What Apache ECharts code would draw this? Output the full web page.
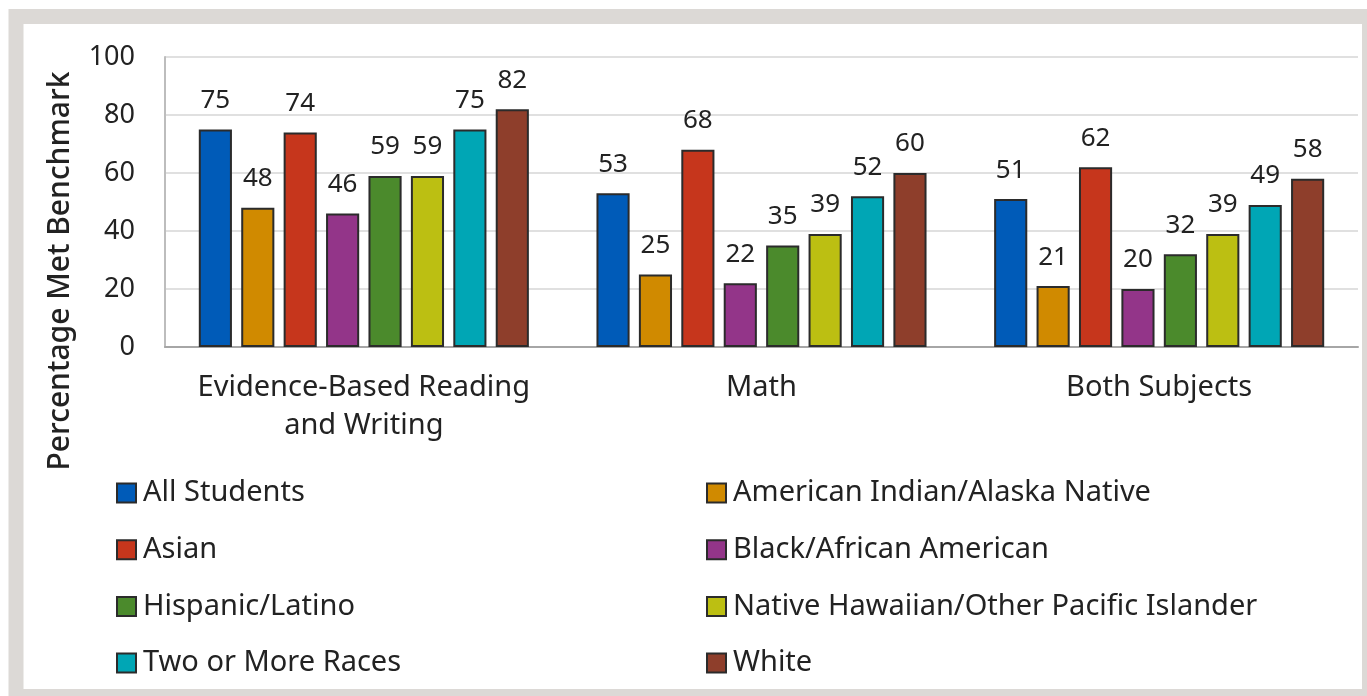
<!DOCTYPE html>
<html>
<head>
<meta charset="utf-8">
<script src="https://cdn.jsdelivr.net/npm/echarts@6/dist/echarts.min.js"></script>
<style>
html,body{margin:0;padding:0;background:#fff;}
#chart{width:1367px;height:696px;}
</style>
</head>
<body>
<div id="chart"></div>
<script>
const categories = ['Evidence-Based Reading\nand Writing', 'Math', 'Both Subjects'];
const seriesNames = ['All Students', 'American Indian/Alaska Native', 'Asian', 'Black/African American', 'Hispanic/Latino', 'Native Hawaiian/Other Pacific Islander', 'Two or More Races', 'White'];
const allStudents = [75, 53, 51];
const amIndian = [48, 25, 21];
const asian = [74, 68, 62];
const black = [46, 22, 20];
const hispanic = [59, 35, 32];
const nativeHawaiian = [59, 39, 39];
const twoOrMore = [75, 52, 49];
const white = [82, 60, 58];
const yTicks = [0, 20, 40, 60, 80, 100];

const values = [allStudents, amIndian, asian, black, hispanic, nativeHawaiian, twoOrMore, white];
const colors = ['#005bb8', '#d08a00', '#c6361c', '#933589', '#4b8a2c', '#bcbf12', '#00a6b5', '#8e3e2b'];
const font = 'Noto Sans';

const legendItem = i => ({name: seriesNames[i], icon: 'rect', itemStyle: {color: colors[i], borderColor: '#2b2b2b', borderWidth: 2}});
const legendBase = {
  orient: 'vertical', top: 477, padding: 0, icon: 'rect', itemWidth: 19, itemHeight: 19, itemGap: 24.7,
  itemStyle: {borderColor: '#2b2b2b', borderWidth: 2},
  textStyle: {fontSize: 29, color: '#222', padding: [0, 0, 0, 2], lineHeight: 32}
};

const chart = echarts.init(document.getElementById('chart'));
chart.setOption({
  animation: false,
  textStyle: {fontFamily: font},
  graphic: [
    {type: 'rect', shape: {x: 16, y: 16.5, width: 1353.5, height: 680}, style: {fill: 'none', stroke: '#dcd9d6', lineWidth: 15}, z: 100},
    {type: 'text', x: 60, y: 271, rotation: Math.PI / 2, style: {text: 'Percentage Met Benchmark', font: '500 30px "Noto Sans"', fill: '#222', align: 'center', verticalAlign: 'middle'}}
  ],
  grid: {left: 165, right: 9, top: 57, bottom: 349},
  xAxis: {
    type: 'category', data: categories,
    axisLine: {lineStyle: {color: '#a6a6a6', width: 2}},
    axisTick: {show: false},
    axisLabel: {color: '#222', fontSize: 29, lineHeight: 38, margin: 22, interval: 0}
  },
  yAxis: {
    type: 'value', min: 0, max: 100, interval: 20,
    axisLine: {show: true, lineStyle: {color: '#bdbdbd', width: 2}},
    axisTick: {show: false},
    splitLine: {lineStyle: {color: '#e0e0e0', width: 2}},
    axisLabel: {color: '#222', fontSize: 27, margin: 30, formatter: v => yTicks.includes(v) ? String(v) : ''}
  },
  legend: [
    Object.assign({}, legendBase, {data: [0, 2, 4, 6].map(legendItem), left: 116}),
    Object.assign({}, legendBase, {data: [1, 3, 5, 7].map(legendItem), left: 706})
  ],
  series: values.map((v, i) => ({
    name: seriesNames[i], type: 'bar', data: v,
    barGap: '28%', barCategoryGap: '17%',
    itemStyle: {color: colors[i], borderColor: '#2b2b2b', borderWidth: 2},
    label: {show: true, position: 'top', distance: 16, fontSize: 26, color: '#222'}
  }))
});
</script>
</body>
</html>
